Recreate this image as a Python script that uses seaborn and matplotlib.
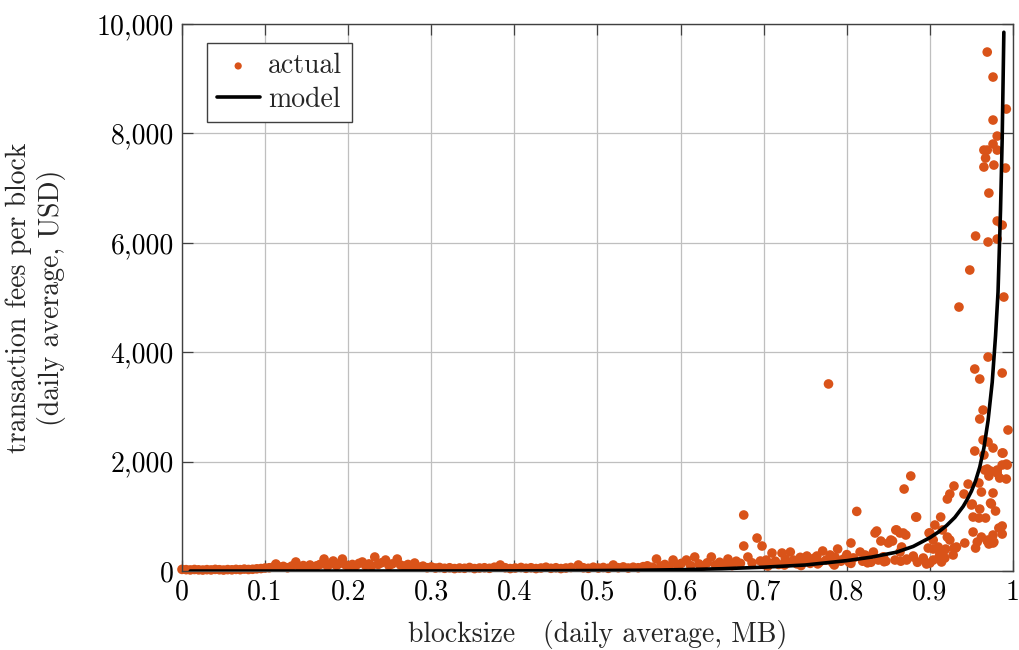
import numpy as np
import pandas as pd
import seaborn as sns
import matplotlib.pyplot as plt
from matplotlib.ticker import FuncFormatter, MultipleLocator

# observed daily averages: blocksize (MB) and fees per block (USD)
actual_x = [
    0.000, 0.005, 0.010, 0.015, 0.020, 0.025, 0.030, 0.035, 0.040, 0.045,
    0.050, 0.055, 0.060, 0.065, 0.070, 0.075, 0.080, 0.085, 0.090, 0.095,
    0.100, 0.105, 0.110, 0.113, 0.118, 0.122, 0.127, 0.132, 0.137, 0.141,
    0.146, 0.150, 0.154, 0.158, 0.162, 0.166, 0.171, 0.175, 0.179, 0.182,
    0.186, 0.190, 0.193, 0.197, 0.201, 0.205, 0.209, 0.213, 0.217, 0.221,
    0.225, 0.228, 0.232, 0.236, 0.240, 0.245, 0.249, 0.253, 0.259, 0.263,
    0.268, 0.272, 0.276, 0.280, 0.285, 0.290, 0.295, 0.300,
    0.305, 0.310, 0.316, 0.322, 0.328, 0.334, 0.340, 0.346, 0.352, 0.358,
    0.364, 0.370, 0.376, 0.383, 0.389, 0.395, 0.401, 0.408, 0.414, 0.420,
    0.426, 0.432, 0.438, 0.444, 0.450, 0.456, 0.462, 0.468, 0.477, 0.483,
    0.489, 0.495, 0.501, 0.507, 0.513, 0.519, 0.525, 0.531, 0.537, 0.543,
    0.549,
    0.555, 0.560, 0.566, 0.571, 0.576, 0.581, 0.586, 0.591, 0.596, 0.601,
    0.607, 0.612, 0.617, 0.622, 0.627, 0.632, 0.637, 0.642, 0.647, 0.652,
    0.657, 0.662, 0.667, 0.672, 0.676, 0.676, 0.681, 0.686, 0.692, 0.696,
    0.698, 0.700,
    0.703, 0.707, 0.710, 0.714, 0.718, 0.722, 0.726, 0.729, 0.732, 0.736,
    0.740, 0.744, 0.748, 0.752, 0.756, 0.760, 0.764, 0.767, 0.771, 0.775,
    0.778, 0.780, 0.783, 0.786, 0.789, 0.793, 0.796, 0.800, 0.803, 0.805,
    0.808, 0.812, 0.816, 0.819, 0.822, 0.826, 0.829, 0.832, 0.834, 0.836,
    0.838, 0.841, 0.844, 0.847, 0.850, 0.853, 0.855, 0.858, 0.859, 0.860,
    0.864, 0.864, 0.866, 0.868, 0.869, 0.871, 0.872, 0.872, 0.877, 0.880,
    0.880, 0.883, 0.884, 0.892, 0.892, 0.896, 0.898, 0.899, 0.900, 0.900,
    0.705, 0.725, 0.745, 0.765, 0.785, 0.805, 0.825, 0.845, 0.865, 0.885,
    0.904, 0.904, 0.904, 0.906, 0.910, 0.911, 0.912, 0.913, 0.914, 0.915,
    0.916, 0.918, 0.919, 0.921, 0.921, 0.924, 0.924, 0.928, 0.929, 0.929,
    0.931, 0.932, 0.935, 0.941, 0.942, 0.946, 0.948, 0.950, 0.951, 0.952,
    0.952, 0.954, 0.954, 0.955, 0.955, 0.957, 0.959, 0.959, 0.960, 0.960,
    0.960, 0.962, 0.962, 0.964, 0.964, 0.965, 0.965, 0.965, 0.966, 0.967,
    0.967, 0.969, 0.969, 0.969, 0.969, 0.970, 0.970, 0.970, 0.970, 0.971,
    0.971, 0.971, 0.973, 0.973, 0.974, 0.976, 0.976, 0.976, 0.976, 0.976,
    0.976, 0.976, 0.977, 0.977, 0.979, 0.981, 0.981, 0.981, 0.981, 0.981,
    0.981, 0.983, 0.984, 0.987, 0.987, 0.987, 0.987, 0.987, 0.987, 0.988,
    0.989, 0.991, 0.992, 0.992, 0.992, 0.993, 0.994,
]
actual_y = [
    30, 25, 20, 28, 22, 18, 25, 20, 30, 24,
    18, 26, 22, 30, 25, 35, 28, 32, 40, 45,
    55, 60, 75, 128, 70, 85, 60, 90, 165, 80,
    100, 70, 110, 73, 95, 120, 219, 90, 130, 183,
    100, 140, 219, 110, 80, 120, 95, 140, 165, 100,
    130, 90, 256, 120, 150, 201, 100, 130, 219, 110,
    90, 120, 80, 146, 70, 90, 60, 75,
    55, 65, 50, 60, 45, 55, 50, 65, 45, 55,
    60, 50, 70, 110, 60, 45, 55, 65, 50, 60,
    45, 55, 70, 50, 60, 45, 55, 65, 110, 60,
    50, 70, 55, 65, 50, 110, 60, 75, 55, 70,
    60,
    80, 95, 70, 219, 90, 120, 85, 201, 110, 140,
    201, 100, 256, 130, 90, 150, 256, 110, 160, 120,
    219, 100, 180, 140, 1024, 457, 256, 150, 603, 183,
    457, 120,
    200, 140, 329, 180, 120, 329, 220, 150, 347, 200,
    130, 250, 170, 274, 140, 230, 274, 160, 366, 200,
    3420, 293, 150, 250, 402, 180, 219, 300, 160, 512,
    240, 1090, 347, 180, 293, 250, 160, 347, 695, 731,
    201, 548, 260, 180, 512, 567, 548, 201, 750, 750,
    347, 695, 439, 695, 1499, 658, 201, 219, 1737, 256,
    274, 987, 987, 219, 238, 128, 420, 695, 146, 695,
    90, 110, 100, 130, 110, 140, 150, 170, 180, 160,
    402, 567, 201, 841, 439, 256, 329, 987, 165, 750,
    347, 238, 402, 621, 1316, 1408, 567, 293, 420, 1554,
    420, 439, 4826, 1408, 512, 1590, 5503, 1207, 1225, 987,
    713, 2194, 3693, 420, 6124, 530, 1609, 969, 3510, 2779,
    1133, 1444, 621, 2943, 2395, 2121, 7696, 7386, 1846, 969,
    7550, 9488, 7696, 1865, 548, 3912, 2358, 6015, 567, 6910,
    1737, 494, 1828, 1243, 1225, 9031, 8245, 7806, 2249, 1426,
    658, 512, 7422, 530, 1097, 7952, 7696, 6399, 6069, 1791,
    1846, 786, 1700, 6325, 3620, 2157, 1938, 823, 676, 2157,
    5009, 7367, 8446, 1682, 1956, 1938, 2578,
]

# fitted model curve
model_x = [0.01, 0.1, 0.2, 0.3, 0.4, 0.5, 0.55, 0.6, 0.65, 0.7, 0.75,
           0.8, 0.83, 0.86, 0.88, 0.9, 0.91, 0.92, 0.93, 0.94, 0.945,
           0.95, 0.955, 0.96, 0.965, 0.97, 0.975, 0.979, 0.982, 0.985,
           0.987, 0.989]
model_y = [0, 0, 0, 1, 3, 9, 14, 25, 42, 70, 110,
           190, 255, 345, 450, 610, 710, 830, 980, 1180, 1310,
           1460, 1650, 1900, 2250, 2750, 3450, 4300, 5100, 6600,
           7900, 9850]

ORANGE = '#D95319'
EDGE = '#404040'
FS = 20

sns.set_theme(style='whitegrid')
plt.rcParams['font.family'] = ['cmr10', 'DejaVu Serif']
plt.rcParams['axes.formatter.use_mathtext'] = True
plt.rcParams['font.size'] = FS

actual = pd.DataFrame({'x': actual_x, 'y': actual_y})
model = pd.DataFrame({'x': model_x, 'y': model_y})

fig, ax = plt.subplots(figsize=(10.19, 6.5), dpi=100)
fig.subplots_adjust(left=0.1786, right=0.9941, top=0.963, bottom=0.1215)

sns.scatterplot(data=actual, x='x', y='y', ax=ax, color=ORANGE, s=48,
                edgecolor='none', label='actual', zorder=2, clip_on=False)
sns.lineplot(data=model, x='x', y='y', ax=ax, color='black', linewidth=2.6,
             label='model', zorder=3)

ax.set_xlim(0, 1)
ax.set_ylim(0, 10000)
ax.xaxis.set_major_locator(MultipleLocator(0.1))
ax.yaxis.set_major_locator(MultipleLocator(2000))
ax.xaxis.set_major_formatter(FuncFormatter(lambda v, p: '0' if v == 0 else ('1' if v == 1 else f'{v:.1f}')))
ax.yaxis.set_major_formatter(FuncFormatter(lambda v, p: f'{v:,.0f}'))

ax.grid(True, color='#bfbfbf', linewidth=0.9)
ax.set_facecolor('white')
for s in ax.spines.values():
    s.set_color(EDGE)
    s.set_linewidth(1.0)
ax.tick_params(direction='in', length=8, width=0.9, color=EDGE,
               top=True, right=True, bottom=True, left=True,
               labelsize=FS, labelcolor='black', pad=6)

ax.set_xlabel('blocksize   (daily average, MB)', fontsize=FS, labelpad=10)
ax.set_ylabel('transaction fees per block\n(daily average, USD)', fontsize=FS,
              labelpad=22, linespacing=1.2)

leg = ax.legend(loc='upper left', bbox_to_anchor=(0.03, 0.965), borderaxespad=0,
                fontsize=FS, frameon=True, fancybox=False, framealpha=1,
                handlelength=1.55, handletextpad=0.3, borderpad=0.35,
                labelspacing=0.25, markerscale=0.75)
leg.get_frame().set_edgecolor(EDGE)
leg.get_frame().set_linewidth(1.0)

fig.savefig('out.png', dpi=100)
